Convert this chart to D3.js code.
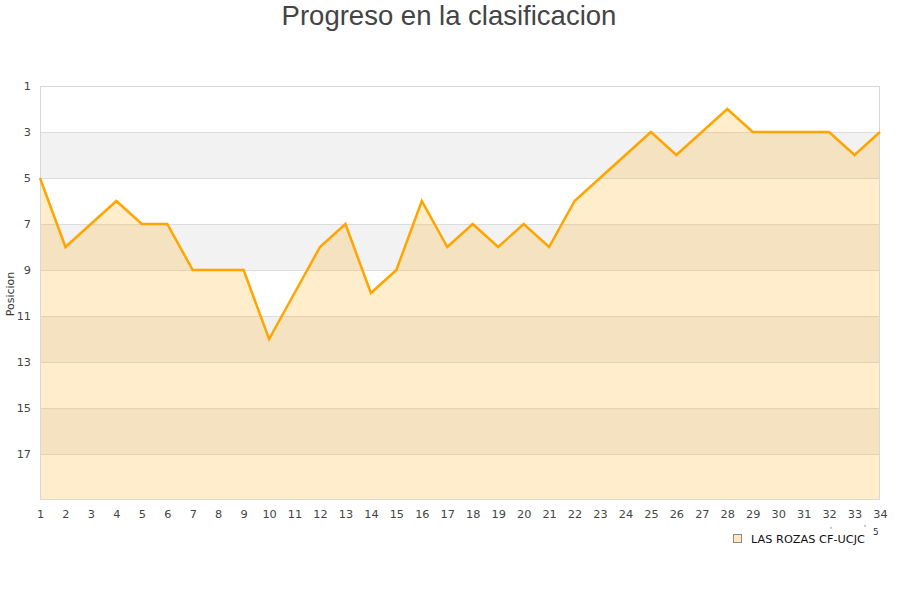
<!DOCTYPE html>
<html><head><meta charset="utf-8">
<script src="https://cdn.jsdelivr.net/npm/d3@7"></script>
<style>body{margin:0;background:#fff}svg{display:block}</style>
</head><body>
<svg id="c" width="900" height="600"></svg>
<script>
const jornadas = d3.range(1, 35);
const posiciones = [5,8,7,6,7,7,9,9,9,12,10,8,7,10,9,6,8,7,8,7,8,6,5,4,3,4,3,2,3,3,3,3,4,3];
const yTicks = [1,3,5,7,9,11,13,15,17];
const seriesName = "LAS ROZAS CF-UCJC";
const title = "Progreso en la clasificacion";
const yLabel = "Posicion";

const svg = d3.select("#c");
const L = 40, R = 880, T = 86, B = 500;
const x = d3.scaleLinear().domain([1, 34]).range([L, R]);
const y = d3.scaleLinear().domain([1, 19]).range([T, B]);

// bands
const bands = d3.range(1, 19, 2);
svg.selectAll("rect.band").data(bands).enter().append("rect")
  .attr("x", L).attr("width", R - L)
  .attr("y", d => y(d)).attr("height", d => y(d + 2) - y(d))
  .attr("fill", (d, i) => i % 2 ? "#f2f2f2" : "#ffffff");

// grid lines
svg.selectAll("line.grid").data(yTicks).enter().append("line")
  .attr("x1", L).attr("x2", R).attr("y1", d => y(d)).attr("y2", d => y(d))
  .attr("stroke", "#dddddd").attr("stroke-width", 1).attr("shape-rendering", "crispEdges");

// area
const area = d3.area().x((d, i) => x(jornadas[i])).y0(y(19)).y1(d => y(d));
svg.append("path").datum(posiciones).attr("d", area)
  .attr("fill", "orange").attr("fill-opacity", 0.2);

// frame
svg.append("rect").attr("x", L + 0.5).attr("y", T + 0.5).attr("width", R - L - 1).attr("height", B - T - 1)
  .attr("fill", "none").attr("stroke", "#d8d8d8");

// line
const line = d3.line().x((d, i) => x(jornadas[i])).y(d => y(d));
svg.append("path").datum(posiciones).attr("d", line)
  .attr("fill", "none").attr("stroke", "orange").attr("stroke-width", 2.5).attr("stroke-linejoin", "miter");

// axes
const yAxis = d3.axisLeft(y).tickValues(yTicks).tickSize(0).tickPadding(9);
const gy = svg.append("g").attr("transform", `translate(${L},0)`).call(yAxis);
gy.select(".domain").remove();
gy.selectAll("text").attr("font-family", "DejaVu Sans").attr("font-size", 11.3).attr("fill", "#444");

const xAxis = d3.axisBottom(x).tickValues(jornadas).tickSize(0).tickPadding(10).tickFormat(d3.format("d"));
const gx = svg.append("g").attr("transform", `translate(0,${B})`).call(xAxis);
gx.select(".domain").remove();
gx.selectAll("text").attr("font-family", "DejaVu Sans").attr("font-size", 11.3).attr("fill", "#444");

// title
svg.append("text").attr("x", 449).attr("y", 25).attr("text-anchor", "middle")
  .attr("font-family", "Liberation Sans, Arial, sans-serif").attr("font-size", 27.5).attr("fill", "#444").text(title);

// y label
svg.append("text").attr("transform", "translate(14,294) rotate(-90)").attr("text-anchor", "middle")
  .attr("font-family", "DejaVu Sans").attr("font-size", 11).attr("fill", "#333").text(yLabel);

// legend
const lg = svg.append("g").attr("transform", "translate(733,534)");
lg.append("rect").attr("x", 0.5).attr("y", 0.5).attr("width", 8).attr("height", 8)
  .attr("fill", "#ffe8bb").attr("stroke", "#888").attr("stroke-width", 1);
lg.append("text").attr("x", 18).attr("y", 8.5).attr("font-family", "DejaVu Sans").attr("font-size", 11.3)
  .attr("fill", "#111").text(seriesName);
svg.append("text").attr("x", 873).attr("y", 535).attr("font-family", "DejaVu Sans").attr("font-size", 9)
  .attr("fill", "#333").text("5");
svg.append("text").attr("x", 830).attr("y", 532).attr("font-family", "DejaVu Sans").attr("font-size", 7)
  .attr("fill", "#333").text("'");
svg.append("text").attr("x", 864).attr("y", 530).attr("font-family", "DejaVu Sans").attr("font-size", 7)
  .attr("fill", "#333").text("'");
</script>
</body></html>
